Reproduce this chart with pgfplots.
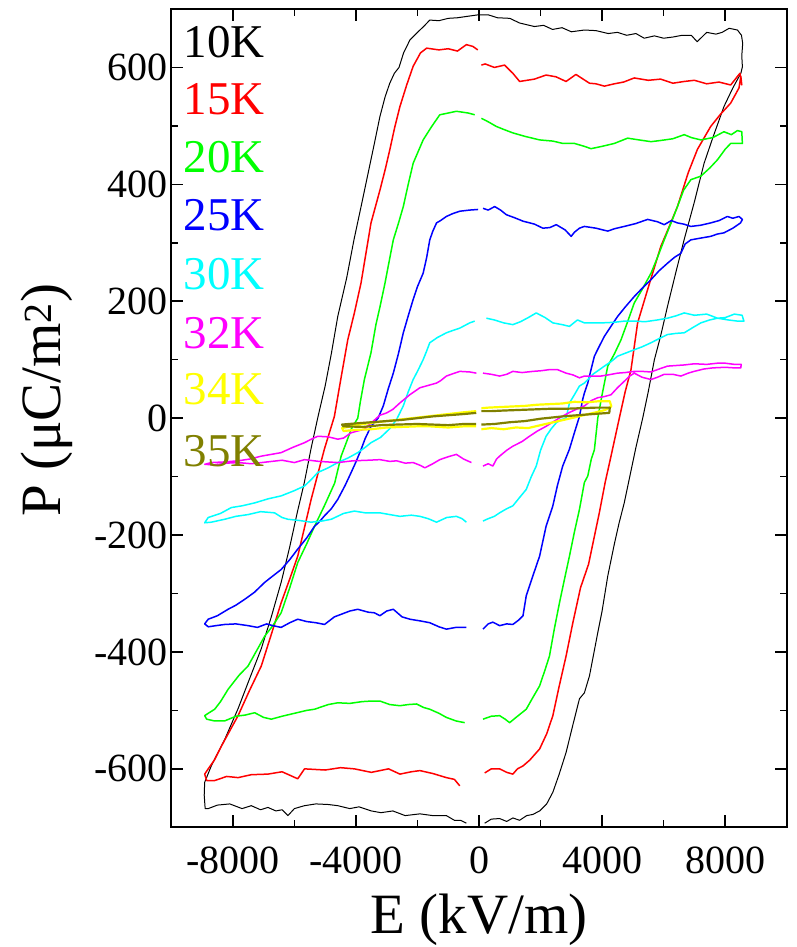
\documentclass[border=0pt]{standalone}
\usepackage{fontspec}
\setmainfont{Liberation Serif}
\usepackage{pgfplots}
\pgfplotsset{compat=1.18}
\definecolor{cBlack}{RGB}{0,0,0}
\definecolor{cRed}{RGB}{255,0,0}
\definecolor{cGreen}{RGB}{0,255,0}
\definecolor{cBlue}{RGB}{0,0,255}
\definecolor{cCyan}{RGB}{0,255,255}
\definecolor{cMag}{RGB}{255,0,255}
\definecolor{cYel}{RGB}{255,255,0}
\definecolor{cOli}{RGB}{128,128,0}
\begin{document}
\begin{tikzpicture}
\path[use as bounding box] (-171.3pt,-119.7pt) rectangle (624.7pt,827.3pt);
\begin{axis}[
  at={(0pt,0pt)}, anchor=south west,
  scale only axis, width=615.4pt, height=818.3pt,
  xmin=-10000, xmax=10000, ymin=-700, ymax=700,
  xtick={-8000,-4000,0,4000,8000}, minor x tick num=1,
  ytick={-600,-400,-200,0,200,400,600}, minor y tick num=1,
  scaled ticks=false,
  /pgf/number format/.cd, 1000 sep={}, assume math mode=true, /pgfplots/.cd,
  tick align=inside, tick pos=both,
  major tick length=12pt, minor tick length=7pt,
  every tick/.style={line width=1.6pt, black},
  axis line style={line width=2pt},
  tick label style={font=\fontsize{40}{40}\selectfont},
  xticklabel style={anchor=center, yshift=-32.7pt},
  label style={font=\fontsize{57}{57}\selectfont},
  xlabel={E (kV/m)},
  ylabel={P (μC/m\textsuperscript{2})},
  xlabel style={at={(axis description cs:0.5,-0.1135)}, anchor=center},
  ylabel style={at={(axis description cs:-0.202,0.522)}, anchor=center, rotate=0},
  unbounded coords=jump,
  every axis plot/.append style={line join=round},
]
% 10K
\addplot[cBlack, line width=1.0pt] coordinates {
(185,-693) (400,-686) (670,-685) (900,-690) (1100,-684) (1320,-688) (1550,-680) (1750,-678) (1970,-672) (2200,-660) (2400,-640) (2600,-610) (2830,-572) (3050,-525) (3265,-480) (3425,-470) (3590,-441) (3860,-367) (4000,-330) (4185,-270) (4400,-215) (4550,-180) (4720,-145) (4900,-100) (5100,-50) (5320,0) (5500,45) (5700,100) (5900,140) (6125,191) (6400,250) (6670,306) (7000,370) (7315,436) (7600,480) (7960,533) (8250,565) (8510,590) (8560,601) (8540,620) (8570,641) (8530,655) (8400,664) (8130,667) (7900,660) (7700,657) (7400,660) (7090,644) (6900,655) (6600,655) (6300,652) (6000,650) (5700,654) (5370,650) (5100,658) (4800,655) (4500,660) (4200,658) (3800,663) (3425,664) (3000,661) (2700,668) (2390,665) (2100,672) (1800,670) (1320,676) (1000,684) (600,685) (300,690) (-30,690) (-300,688) (-700,685) (-1000,684) (-1300,680) (-1600,681) (-1800,670) (-2000,660) (-2245,647) (-2450,625) (-2600,600) (-2750,590) (-2900,573) (-3050,550) (-3220,516) (-3400,470) (-3600,420) (-3800,370) (-4060,306) (-4300,240) (-4590,174) (-4800,110) (-5000,55) (-5230,3) (-5450,-50) (-5680,-111) (-5900,-160) (-6150,-220) (-6430,-281) (-6750,-340) (-7080,-395) (-7450,-445) (-7830,-497) (-8250,-548) (-8700,-595) (-8915,-623) (-8930,-645) (-8900,-668) (-8800,-668) (-8500,-662) (-8100,-660) (-7700,-668) (-7400,-663) (-7100,-670) (-6860,-666) (-6600,-672) (-6400,-670) (-6210,-680) (-6000,-668) (-5670,-663) (-5300,-660) (-4900,-661) (-4590,-663) (-4200,-668) (-3900,-665) (-3500,-672) (-3185,-675) (-2800,-672) (-2400,-680) (-1920,-677) (-1500,-680) (-1060,-680) (-800,-688) (-600,-688) (-410,-693)
};
% 15K
\addplot[cRed, line width=1.5pt] coordinates {
(185,-607) (400,-600) (670,-600) (900,-606) (1100,-609) (1250,-600) (1430,-595) (1650,-585) (1970,-566) (2200,-540) (2400,-509) (2600,-460) (2830,-407) (3050,-350) (3300,-290) (3560,-250) (3910,-162) (4100,-110) (4290,-65) (4560,0) (4750,45) (4940,83) (5155,163) (5480,220) (5910,294) (6200,330) (6450,362) (6800,420) (7100,460) (7530,499) (7850,520) (8180,539) (8450,565) (8510,585) (8540,570) (8480,590) (8180,570) (7800,575) (7400,572) (7000,578) (6670,576) (6300,573) (5900,580) (5500,578) (5045,582) (4700,575) (4400,572) (4075,568) (3800,572) (3590,573) (3150,588) (2830,576) (2500,584) (2180,587) (1800,580) (1320,576) (1100,590) (830,604) (500,600) (200,606) (78,604)
(0,nan)
(-40,630) (-200,636) (-410,639) (-700,628) (-1000,632) (-1300,630) (-1700,633) (-1900,625) (-2140,602) (-2350,570) (-2570,533) (-2750,495) (-2895,460) (-3050,425) (-3220,390) (-3510,334) (-3835,231) (-4050,180) (-4265,134) (-4480,70) (-4700,3) (-5025,-53) (-5455,-139) (-5890,-236) (-6150,-275) (-6430,-316) (-6750,-370) (-7075,-424) (-7450,-465) (-7830,-509) (-8100,-535) (-8370,-561) (-8600,-585) (-8800,-600) (-8915,-609) (-8850,-620) (-8590,-620) (-8200,-613) (-7830,-615) (-7400,-610) (-6860,-609) (-6400,-605) (-5890,-617) (-5670,-600) (-5000,-602) (-4500,-598) (-4050,-600) (-3500,-606) (-2940,-600) (-2570,-609) (-2200,-605) (-1920,-603) (-1500,-608) (-1060,-615) (-800,-618) (-625,-629)
};
% 20K
\addplot[cGreen, line width=1.5pt] coordinates {
(130,-515) (400,-510) (670,-509) (850,-515) (995,-521) (1250,-510) (1535,-498) (1750,-478) (1970,-458) (2150,-430) (2290,-407) (2450,-360) (2615,-316) (2780,-275) (2940,-236) (3100,-195) (3265,-156) (3425,-110) (3535,-99) (3650,-70) (3750,-54) (3860,0) (4000,40) (4185,89) (4400,110) (4615,134) (4830,165) (5045,197) (5300,220) (5590,248) (5800,275) (6020,305) (6250,335) (6450,362) (6650,390) (6885,408) (7210,414) (7500,428) (7750,442) (8000,460) (8180,470) (8400,470) (8560,470) (8540,490) (8400,492) (8200,485) (7960,490) (7600,480) (7210,476) (6900,480) (6670,485) (6300,478) (5900,475) (5590,473) (5200,476) (4830,479) (4400,470) (4000,465) (3640,461) (3425,465) (3100,470) (2720,470) (2400,474) (1970,476) (1500,482) (1100,488) (800,494) (565,499) (300,507) (78,513)
(0,nan)
(-140,519) (-350,522) (-735,525) (-1000,522) (-1275,519) (-1550,498) (-1815,476) (-2140,436) (-2300,400) (-2460,362) (-2620,333) (-2785,305) (-2950,260) (-3055,231) (-3220,190) (-3350,160) (-3510,112) (-3725,66) (-3850,30) (-3940,0) (-4155,-19) (-4300,-40) (-4480,-65) (-4690,-111) (-5025,-150) (-5345,-185) (-5600,-215) (-5890,-247) (-6150,-290) (-6430,-333) (-6700,-355) (-6965,-373) (-7250,-400) (-7505,-424) (-7800,-440) (-8155,-464) (-8400,-485) (-8590,-498) (-8800,-505) (-8915,-509) (-8850,-515) (-8600,-518) (-8265,-518) (-7900,-510) (-7600,-508) (-7290,-504) (-7000,-512) (-6750,-515) (-6400,-510) (-6000,-505) (-5600,-500) (-5345,-498) (-4900,-490) (-4590,-487) (-4200,-488) (-3800,-485) (-3500,-484) (-3220,-484) (-2900,-490) (-2570,-492) (-2300,-490) (-2030,-489) (-1800,-495) (-1600,-498) (-1300,-505) (-1060,-512) (-750,-518) (-465,-521)
};
% 25K
\addplot[cBlue, line width=1.5pt] coordinates {
(130,-361) (300,-352) (450,-349) (670,-355) (900,-352) (1100,-353) (1300,-345) (1430,-338) (1535,-304) (1750,-270) (1970,-236) (2180,-185) (2400,-150) (2550,-115) (2720,-82) (2940,-53) (3100,-25) (3265,3) (3370,32) (3425,43) (3535,60) (3650,85) (3750,106) (3900,122) (4075,140) (4300,158) (4505,174) (4750,190) (5045,208) (5300,222) (5590,237) (5850,252) (6125,265) (6350,275) (6560,282) (6700,298) (6885,305) (7200,308) (7530,311) (7750,315) (7960,317) (8250,325) (8500,334) (8560,340) (8450,345) (8250,342) (8070,345) (7800,338) (7530,334) (7200,330) (6885,328) (6650,332) (6450,334) (6250,338) (6020,331) (5800,336) (5480,340) (5100,333) (4720,328) (4400,324) (4185,320) (3800,325) (3425,328) (3265,325) (3100,318) (2995,311) (2800,322) (2510,331) (2300,326) (2075,325) (1800,332) (1430,337) (1150,343) (890,348) (700,356) (510,362) (300,356) (130,359)
(0,nan)
(-30,357) (-300,356) (-625,354) (-850,350) (-1060,345) (-1250,338) (-1380,334) (-1500,320) (-1600,305) (-1700,275) (-1815,248) (-2000,225) (-2140,203) (-2300,175) (-2460,146) (-2620,110) (-2785,77) (-2950,50) (-3110,21) (-3280,0) (-3510,-14) (-3700,-35) (-3835,-54) (-4000,-75) (-4155,-93) (-4350,-115) (-4590,-139) (-4800,-155) (-5020,-167) (-5200,-178) (-5345,-185) (-5600,-205) (-5890,-224) (-6150,-242) (-6430,-259) (-6700,-270) (-6965,-281) (-7300,-298) (-7615,-310) (-7900,-320) (-8155,-327) (-8500,-338) (-8800,-344) (-8915,-352) (-8800,-357) (-8550,-355) (-8265,-353) (-7900,-352) (-7505,-355) (-7200,-358) (-6900,-352) (-6700,-355) (-6430,-358) (-6150,-350) (-5890,-344) (-5600,-348) (-5300,-350) (-5020,-353) (-4700,-340) (-4400,-334) (-4200,-330) (-3940,-327) (-3600,-332) (-3400,-333) (-3220,-338) (-3000,-330) (-2785,-327) (-2500,-340) (-2245,-344) (-1900,-347) (-1600,-350) (-1300,-357) (-1060,-361) (-750,-358) (-410,-358)
};
% 30K
\addplot[cCyan, line width=1.5pt] coordinates {
(130,-176) (300,-172) (500,-168) (670,-162) (900,-155) (1100,-150) (1300,-137) (1535,-122) (1700,-100) (1860,-82) (2000,-55) (2180,-31) (2350,-18) (2510,-8) (2650,-3) (2830,0) (2940,26) (3100,40) (3265,55) (3425,60) (3700,75) (4075,89) (4300,97) (4505,106) (4800,112) (5045,117) (5300,122) (5590,129) (5850,136) (6125,143) (6400,145) (6670,146) (6950,155) (7210,163) (7500,168) (7750,171) (8100,168) (8400,166) (8610,166) (8550,176) (8300,178) (8000,172) (7750,171) (7400,178) (7000,176) (6670,180) (6400,175) (6125,171) (5800,168) (5400,165) (5045,166) (4720,166) (4400,164) (4000,163) (3700,163) (3425,163) (3200,168) (2940,157) (2700,160) (2400,163) (2150,172) (1860,180) (1600,172) (1350,165) (1100,160) (800,163) (500,168) (240,171)
(0,nan)
(-140,166) (-300,163) (-625,154) (-850,150) (-1060,146) (-1350,138) (-1600,129) (-1700,115) (-1815,100) (-2000,80) (-2140,66) (-2300,45) (-2460,21) (-2675,-2) (-2900,-18) (-3200,-33) (-3510,-42) (-3700,-50) (-3940,-59) (-4250,-68) (-4590,-76) (-4900,-85) (-5240,-93) (-5450,-105) (-5670,-116) (-6000,-124) (-6430,-133) (-6850,-138) (-7290,-145) (-7700,-150) (-8050,-153) (-8400,-163) (-8800,-170) (-8915,-179) (-8700,-178) (-8265,-173) (-7900,-168) (-7505,-165) (-7100,-160) (-6645,-162) (-6400,-170) (-6210,-173) (-5850,-175) (-5455,-178) (-5100,-176) (-4800,-173) (-4400,-163) (-4050,-159) (-3700,-162) (-3220,-162) (-2900,-165) (-2570,-168) (-2200,-166) (-1920,-168) (-1650,-172) (-1380,-178) (-1050,-170) (-735,-168) (-550,-172) (-410,-178)
};
% 32K
\addplot[cMag, line width=1.5pt] coordinates {
(130,-82) (300,-78) (450,-82) (570,-70) (670,-65) (900,-55) (1100,-48) (1400,-40) (1640,-31) (1900,-22) (2180,-14) (2450,-5) (2700,3) (2950,10) (3200,16) (3425,21) (3650,30) (3860,35) (4080,37) (4290,40) (4500,52) (4720,63) (4900,72) (5045,77) (5300,70) (5590,66) (5800,70) (6020,75) (6300,75) (6560,72) (6800,77) (6990,80) (7300,84) (7600,86) (8000,87) (8300,86) (8510,86) (8520,92) (8300,92) (8000,94) (7750,94) (7400,92) (7000,93) (6670,91) (6400,90) (6125,89) (5850,84) (5590,79) (5300,80) (5045,80) (4750,78) (4505,77) (4200,74) (3960,72) (3700,72) (3425,72) (3265,69) (3050,74) (2830,77) (2550,83) (2290,83) (2000,81) (1750,80) (1400,78) (1100,80) (900,75) (670,72) (400,75) (130,77)
(0,nan)
(-85,77) (-300,79) (-625,80) (-850,76) (-1060,72) (-1250,64) (-1380,60) (-1650,56) (-1920,52) (-2250,40) (-2570,26) (-2800,15) (-3000,9) (-3220,5) (-3500,-8) (-3725,-19) (-3950,-22) (-4155,-25) (-4400,-34) (-4590,-36) (-4900,-32) (-5240,-31) (-5450,-36) (-5670,-42) (-6050,-50) (-6430,-59) (-6750,-62) (-7075,-65) (-7450,-70) (-7830,-73) (-8300,-75) (-8700,-76) (-8915,-79) (-8600,-80) (-8200,-77) (-7830,-76) (-7400,-78) (-6900,-75) (-6400,-72) (-6000,-76) (-5670,-71) (-5200,-74) (-4590,-76) (-4100,-73) (-3600,-72) (-3220,-71) (-2900,-74) (-2675,-73) (-2400,-77) (-2140,-76) (-1900,-81) (-1760,-85) (-1500,-78) (-1275,-71) (-1000,-66) (-735,-62) (-500,-70) (-245,-76)
};
% 34K
\addplot[cYel, line width=2.2pt] coordinates {
(78,-19) (400,-17) (800,-19) (1200,-16) (1600,-17) (2000,-12) (2500,-6) (3000,0) (3400,5) (3800,10) (4100,14) (4300,20) (4250,29) (3900,29) (3500,27) (3100,28) (2700,25) (2300,24) (1900,23) (1500,21) (1100,20) (700,19) (300,18) (78,17)
(0,nan)
(-90,12) (-500,10) (-1000,7) (-1500,4) (-2000,1) (-2500,-2) (-3000,-5) (-3500,-8) (-4000,-12) (-4450,-17) (-4400,-22) (-4000,-20) (-3500,-19) (-3000,-16) (-2500,-15) (-2000,-14) (-1600,-14) (-1000,-16) (-500,-14) (-90,-14)
};
% 35K
\addplot[cOli, line width=2.2pt] coordinates {
(78,-11) (500,-10) (1000,-7) (1500,-5) (2000,-1) (2720,3) (3200,5) (3700,7) (4235,9) (4250,18) (3800,18) (3300,17) (2800,16) (2300,16) (1800,15) (1300,14) (800,13) (400,12) (78,12)
(0,nan)
(-90,9) (-500,7) (-1000,5) (-1500,3) (-2000,0) (-2500,-3) (-3000,-5) (-3500,-7) (-4000,-9) (-4450,-11) (-4410,-14) (-3760,-15) (-3200,-12) (-2675,-11) (-2000,-10) (-1500,-11) (-1000,-12) (-500,-10) (-90,-10)
};
\begin{scope}[every node/.style={anchor=west, inner sep=0pt, font=\fontsize{47}{47}\selectfont}]
\node[text=cBlack] at (axis cs:-9600,644) {10K};
\node[text=cRed]   at (axis cs:-9600,546) {15K};
\node[text=cGreen] at (axis cs:-9600,446) {20K};
\node[text=cBlue]  at (axis cs:-9600,347) {25K};
\node[text=cCyan]  at (axis cs:-9600,246) {30K};
\node[text=cMag]   at (axis cs:-9600,145) {32K};
\node[text=cYel]   at (axis cs:-9600,50) {34K};
\node[text=cOli]   at (axis cs:-9600,-56) {35K};
\end{scope}
\end{axis}
\end{tikzpicture}
\end{document}
